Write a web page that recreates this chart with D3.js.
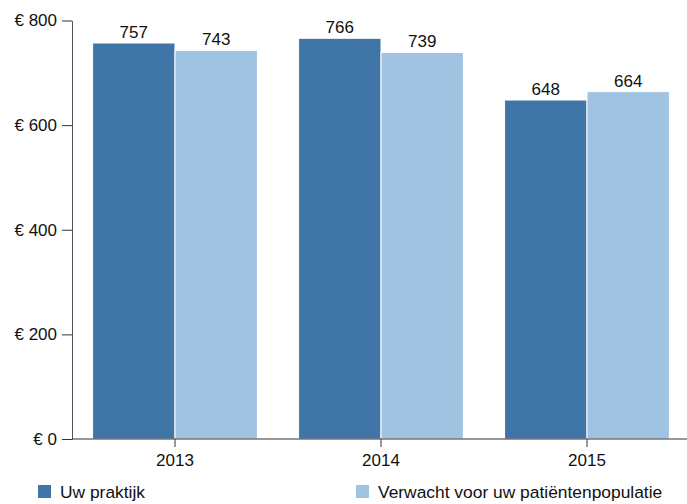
<!DOCTYPE html>
<html><head><meta charset="utf-8">
<script src="https://cdn.jsdelivr.net/npm/d3@7"></script>
<style>body{margin:0;background:#fff;}svg{display:block;font-family:"Liberation Sans",Arial,sans-serif;}</style>
</head><body><svg id="c" width="687" height="504"></svg>
<script>
const years = ["2013", "2014", "2015"];
const seriesNames = ["Uw praktijk", "Verwacht voor uw patiëntenpopulatie"];
const uwPraktijk = [757, 766, 648];
const verwacht = [743, 739, 664];
const yTicks = [0, 200, 400, 600, 800];
const colors = ["#3f75a7", "#a0c3e1"];

const svg = d3.select("#c");
const x = d3.scaleBand().domain(years).range([72, 690]).paddingInner(0.2).paddingOuter(0.1);
const sub = d3.scaleBand().domain([0, 1]).range([0, x.bandwidth()]);
const y = d3.scaleLinear().domain([0, 800]).range([439, 20.5]);

const data = years.map((yr, i) => ({yr, vals: [uwPraktijk[i], verwacht[i]]}));

const g = svg.append("g").selectAll("g").data(data).join("g")
  .attr("transform", d => `translate(${x(d.yr)},0)`);
g.selectAll("rect").data(d => d.vals.map((v, k) => ({v, k}))).join("rect")
  .attr("x", d => sub(d.k))
  .attr("y", d => y(d.v))
  .attr("width", sub.bandwidth())
  .attr("height", d => y(0) - y(d.v))
  .attr("fill", d => colors[d.k])
  .attr("stroke", "#fff").attr("stroke-width", 1);
g.selectAll("text").data(d => d.vals.map((v, k) => ({v, k}))).join("text")
  .attr("x", d => sub(d.k) + sub.bandwidth() / 2)
  .attr("y", d => y(d.v) - 5)
  .attr("text-anchor", "middle")
  .attr("font-size", 17).attr("fill", "#111")
  .text(d => d.v);

const yAxis = svg.append("g").attr("transform", "translate(72,0)")
  .call(d3.axisLeft(y).tickValues(yTicks).tickSize(10).tickSizeOuter(0).tickPadding(5).tickFormat(d => "€ " + d));
yAxis.select(".domain").attr("stroke", "#555");
yAxis.selectAll(".tick line").attr("stroke", "#333");
yAxis.selectAll("text").attr("font-size", 17).attr("fill", "#111").attr("font-family", "Liberation Sans, Arial, sans-serif");

const xAxis = svg.append("g").attr("transform", "translate(0,439)")
  .call(d3.axisBottom(x).tickSize(8).tickSizeOuter(0).tickPadding(7));
xAxis.select(".domain").attr("stroke", "#333").attr("d", "M72,0H687");
xAxis.selectAll(".tick line").attr("stroke", "#333");
xAxis.selectAll("text").attr("font-size", 17).attr("fill", "#111").attr("font-family", "Liberation Sans, Arial, sans-serif");

const legX = [38, 356];
const leg = svg.append("g").selectAll("g").data(seriesNames).join("g")
  .attr("transform", (d, i) => `translate(${legX[i]},485)`);
leg.append("rect").attr("width", 13).attr("height", 13).attr("fill", (d, i) => colors[i]);
leg.append("text").attr("x", 22).attr("y", 13).attr("font-size", 17.4).attr("fill", "#111").text(d => d);
</script></body></html>
